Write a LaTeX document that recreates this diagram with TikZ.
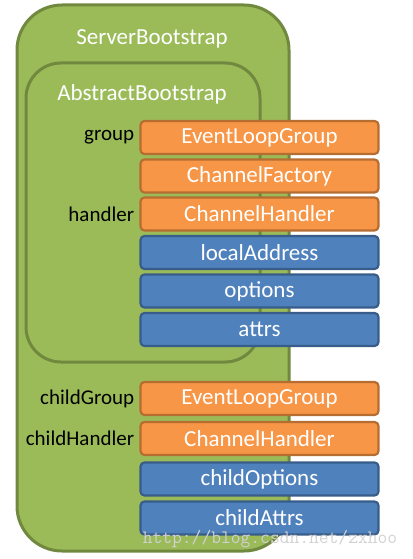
\documentclass[tikz,border=0pt]{standalone}
\usepackage{fontspec}
\setmainfont{Carlito}
\usepackage{tikz}
\usetikzlibrary{positioning}
\definecolor{grfill}{RGB}{155,187,89}
\definecolor{grline}{RGB}{113,137,63}
\definecolor{orfill}{RGB}{247,150,70}
\definecolor{orline}{RGB}{182,109,49}
\definecolor{blfill}{RGB}{79,129,189}
\definecolor{blline}{RGB}{56,93,138}

\begin{document}
\begin{tikzpicture}[x=1pt,y=-1pt,
  field/.style={rounded corners=4pt,line width=2.2pt,minimum width=238pt,minimum height=33pt,
    inner sep=0pt,text=white,font=\fontsize{23}{26}\selectfont},
  ofield/.style={field,draw=orline,fill=orfill},
  bfield/.style={field,draw=blline,fill=blfill},
  lbl/.style={inner sep=0pt,font=\fontsize{21}{24}\selectfont,left=5pt of #1},
  title/.style={text=white,font=\fontsize{23}{26}\selectfont}]
  \useasboundingbox (0,0) rectangle (412,559);
  % containers
  \draw[grline,fill=grfill,line width=3pt,rounded corners=45pt] (17,5) rectangle (289,551);
  \draw[grline,line width=3pt,rounded corners=35pt] (26,63) rectangle (260,362);
  \node[title] (sb) at (152,39) {ServerBootstrap};
  \node[title] (ab) at (142,94) {AbstractBootstrap};
  % AbstractBootstrap fields
  \node[ofield] (group) at (259.5,137.5) {EventLoopGroup};
  \node[ofield] (factory) at (259.5,176) {ChannelFactory};
  \node[ofield] (handler) at (259.5,214) {ChannelHandler};
  \node[bfield] (addr) at (259.5,252.5) {localAddress};
  \node[bfield] (opts) at (259.5,291) {options};
  \node[bfield] (attrs) at (259.5,329.5) {attrs};
  % ServerBootstrap fields
  \node[ofield] (cgroup) at (259.5,398.5) {EventLoopGroup};
  \node[ofield] (chandler) at (259.5,438.5) {ChannelHandler};
  \node[bfield] (copts) at (259.5,479) {childOptions};
  \node[bfield] (cattrs) at (259.5,518) {childAttrs};
  % names
  \node[lbl=group] (lgroup) {group};
  \node[lbl=handler] (lhandler) {handler};
  \node[lbl=cgroup] (lcgroup) {childGroup};
  \node[lbl=chandler] (lchandler) {childHandler};
  % watermark
  \node[text=black!18,font=\ttfamily\fontsize{19}{21}\selectfont] (mark) at (270,539) {http://blog.csdn.net/zxhoo};
\end{tikzpicture}
\end{document}
